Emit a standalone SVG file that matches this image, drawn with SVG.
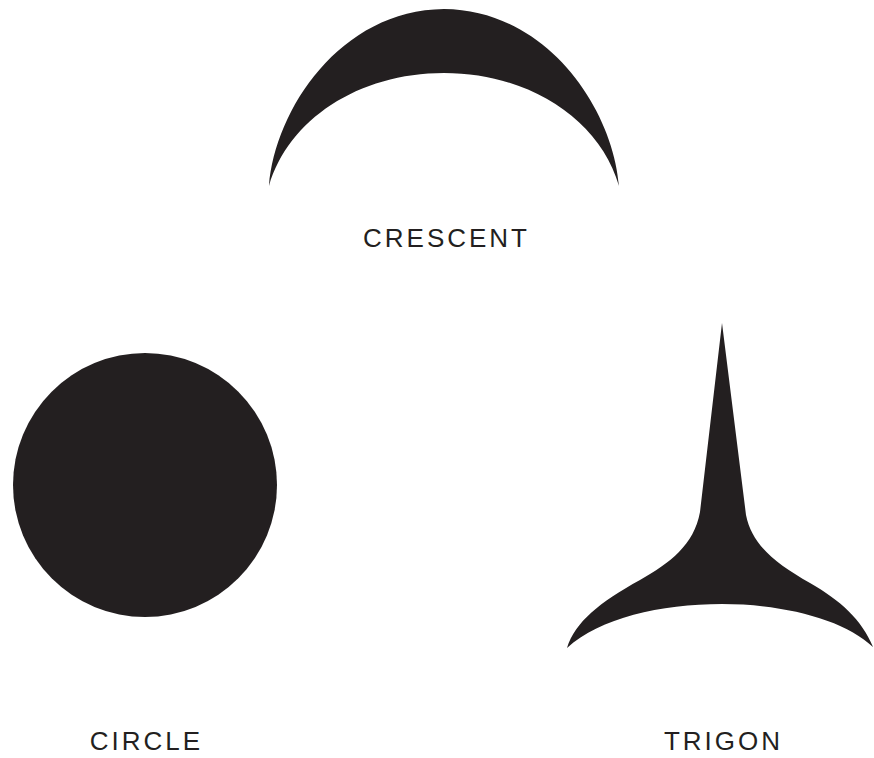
<svg xmlns="http://www.w3.org/2000/svg" width="874" height="758" viewBox="0 0 874 758">
<style>
.shape{fill:#231f20;}
.lbl{font-family:"Liberation Sans",Arial,sans-serif;font-size:26px;fill:#231f20;text-anchor:middle;letter-spacing:3px;}
</style>
<rect width="874" height="758" fill="#ffffff"/>
<g id="crescent">
<path class="shape" d="M269,186 C275,110 340,10 444,9 C548,10 613,110 619,186 C600,120 530,73 444,73 C358,73 288,120 269,186 Z"/>
<text class="lbl" x="446.5" y="247">CRESCENT</text>
</g>
<g id="circle">
<circle class="shape" cx="145" cy="485" r="132"/>
<text class="lbl" x="146.5" y="750">CIRCLE</text>
</g>
<g id="trigon">
<path class="shape" d="M722,323 L700,512 C694,545 670,563 640,580 C600,602 575,622 567,648 C600,618 660,604 722,604 C785,604 845,620 873,647 C862,620 840,600 810,583 C775,563 752,545 746,515 Z"/>
<text class="lbl" x="723.5" y="750">TRIGON</text>
</g>
</svg>
